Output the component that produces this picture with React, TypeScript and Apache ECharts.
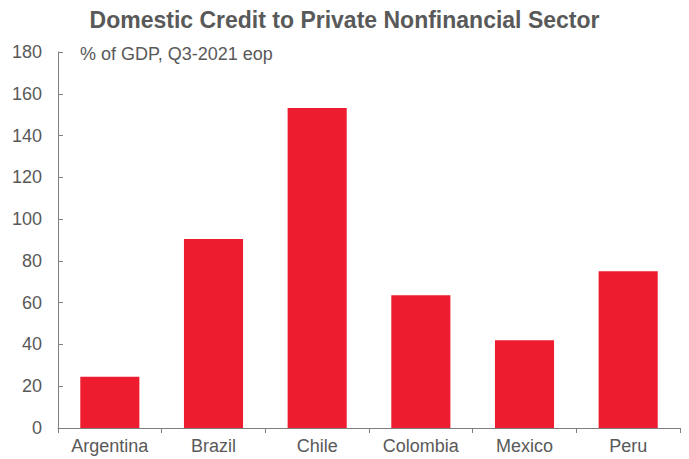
import React, { useEffect, useRef } from "react";
import * as echarts from "echarts";

const categories = ["Argentina", "Brazil", "Chile", "Colombia", "Mexico", "Peru"];
const values = [24.5, 90.5, 153.2, 63.5, 42.0, 75.0];
const yTicks = { min: 0, max: 180, interval: 20 };
const titleText = "Domestic Credit to Private Nonfinancial Sector";
const unitText = "% of GDP, Q3-2021 eop";

export default function App() {
  const ref = useRef<HTMLDivElement>(null);
  useEffect(() => {
    if (!ref.current) return;
    const chart = echarts.init(ref.current, null, { renderer: "svg" });
    const font = "'Liberation Sans', Arial, sans-serif";
    chart.setOption({
      animation: false,
      title: {
        text: titleText,
        left: "center",
        top: 3,
        textStyle: { fontFamily: font, fontSize: 23, fontWeight: "bold", color: "#595959" },
      },
      graphic: [
        {
          type: "text",
          left: 80,
          top: 45,
          style: { text: unitText, font: `18px ${font}`, fill: "#595959" },
        },
      ],
      grid: { left: 58, right: 9, top: 52, bottom: 31, containLabel: false },
      xAxis: {
        type: "category",
        data: categories,
        axisLine: { lineStyle: { color: "#7f7f7f", width: 1 } },
        axisTick: { show: true, length: 5, alignWithLabel: false, lineStyle: { color: "#7f7f7f" } },
        axisLabel: { color: "#595959", fontSize: 18, fontFamily: font, margin: 9 },
      },
      yAxis: {
        type: "value",
        min: yTicks.min,
        max: yTicks.max,
        interval: yTicks.interval,
        splitLine: { show: false },
        axisLine: { show: true, lineStyle: { color: "#7f7f7f", width: 1 } },
        axisTick: { show: true, inside: true, length: 5, lineStyle: { color: "#7f7f7f" } },
        axisLabel: { color: "#595959", fontSize: 18, fontFamily: font, margin: 16 },
      },
      series: [
        {
          type: "bar",
          data: values,
          barWidth: "57%",
          itemStyle: { color: "#ED1C2E" },
        },
      ],
    });
    return () => chart.dispose();
  }, []);
  return <div ref={ref} style={{ width: 689, height: 459, position: "absolute", left: 0, top: 0 }} />;
}
